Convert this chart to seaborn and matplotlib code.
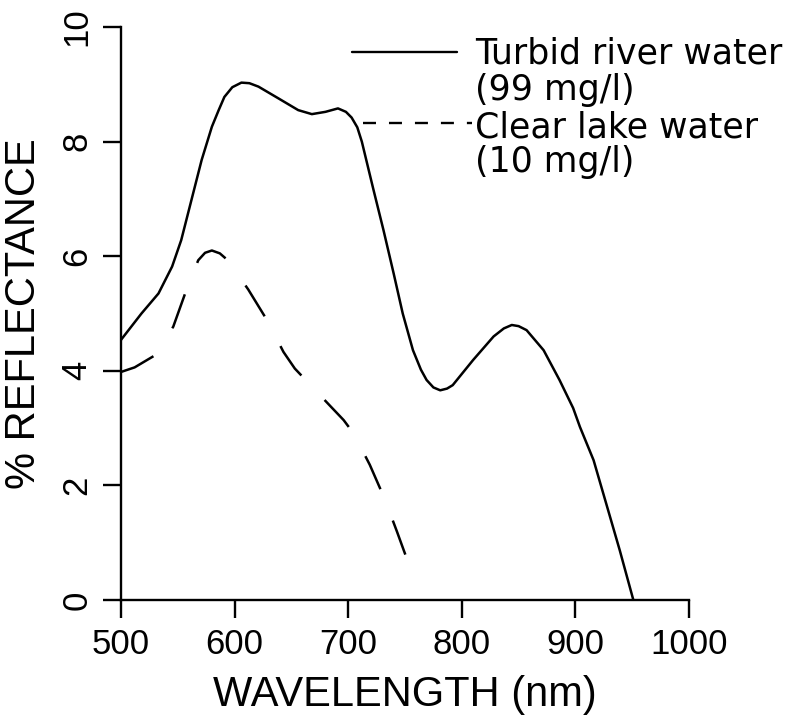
import matplotlib
matplotlib.use("Agg")
import matplotlib.pyplot as plt
import seaborn as sns
import pandas as pd

# Turbid river water (99 mg/l)
turbid_wl = [500, 518, 533, 545, 553, 562, 571, 580, 586, 591, 598, 606, 613, 621, 639, 656, 668, 680,
             691, 698, 703, 708, 712, 722, 731, 740, 748, 757, 764, 769, 775, 781, 787, 792, 810, 828, 837, 844, 850, 857,
             872, 886, 898, 904, 916, 927, 939, 951]
turbid_ref = [4.54, 5.00, 5.35, 5.82, 6.28, 6.98, 7.68, 8.26, 8.55, 8.78, 8.95, 9.03, 9.02, 8.96, 8.75, 8.55, 8.48, 8.52,
              8.58, 8.52, 8.42, 8.25, 8.00, 7.18, 6.46, 5.70, 5.00, 4.36, 4.02, 3.84, 3.71, 3.66, 3.69, 3.75, 4.19, 4.60, 4.74, 4.80, 4.78, 4.71,
              4.36, 3.84, 3.35, 3.02, 2.44, 1.69, 0.87, 0.0]

# Clear lake water (10 mg/l)
clear_wl = [500, 512, 529, 546, 557, 568, 574, 580, 587, 594, 612, 629, 643, 653, 664, 684, 696,
            705, 719, 732, 743, 754]
clear_ref = [3.98, 4.06, 4.26, 4.77, 5.38, 5.93, 6.06, 6.10, 6.05, 5.93, 5.42, 4.87, 4.33, 4.04, 3.81, 3.39, 3.14,
             2.90, 2.36, 1.77, 1.19, 0.59]

x_ticks = [500, 600, 700, 800, 900, 1000]
y_ticks = [0, 2, 4, 6, 8, 10]
legend_lines = ["Turbid river water", "(99 mg/l)", "Clear lake water", "(10 mg/l)"]

sns.set_theme(style="ticks")
plt.rcParams['font.family'] = ['Liberation Sans', 'DejaVu Sans']

fig = plt.figure(figsize=(7.96, 7.25), dpi=100)
ax = fig.add_axes([0.152, 0.1724, 0.7136, 0.7903])

df_t = pd.DataFrame({"wl": turbid_wl, "ref": turbid_ref})
df_c = pd.DataFrame({"wl": clear_wl, "ref": clear_ref})
sns.lineplot(data=df_t, x="wl", y="ref", ax=ax, color="black", linewidth=1.8, sort=False)
sns.lineplot(data=df_c, x="wl", y="ref", ax=ax, color="black", linewidth=1.8, sort=False,
             linestyle=(0, (14.5, 13.5)))

ax.set_xlim(500, 1000)
ax.set_ylim(0, 10)
ax.set_xticks(x_ticks)
ax.set_yticks(y_ticks)
ax.set_xticklabels([str(v) for v in x_ticks])
ax.set_yticklabels([str(v) for v in y_ticks])
sns.despine(ax=ax)
for s in ["left", "bottom"]:
    ax.spines[s].set_linewidth(1.7)
    ax.spines[s].set_color("black")
ax.tick_params(axis="both", direction="out", length=13, width=1.7, color="black",
               labelsize=25, labelcolor="black")
ax.tick_params(axis="x", pad=7)
ax.tick_params(axis="y", pad=7)
for lab in ax.get_yticklabels():
    lab.set_rotation(90)
    lab.set_va("center")
ax.set_xlabel("WAVELENGTH (nm)", fontsize=30, color="black", labelpad=10)
ax.set_ylabel("% REFLECTANCE", fontsize=30, color="black", labelpad=12)

# legend drawn as text with sample lines
ax.plot([0.4067, 0.5915], [0.956, 0.956], transform=ax.transAxes, color="black",
        lw=1.7, clip_on=False)
ax.plot([0.426, 0.618], [0.832, 0.832], transform=ax.transAxes, color="black",
        lw=1.7, clip_on=False, linestyle=(0, (5.5, 5.5)))
ys = [0.937, 0.873, 0.808, 0.747]
for t, yy in zip(legend_lines, ys):
    ax.text(0.623, yy, t, transform=ax.transAxes, fontsize=25, color="black",
            family="DejaVu Sans", ha="left", va="baseline", clip_on=False)

fig.savefig("out.png", dpi=100, facecolor="white")
